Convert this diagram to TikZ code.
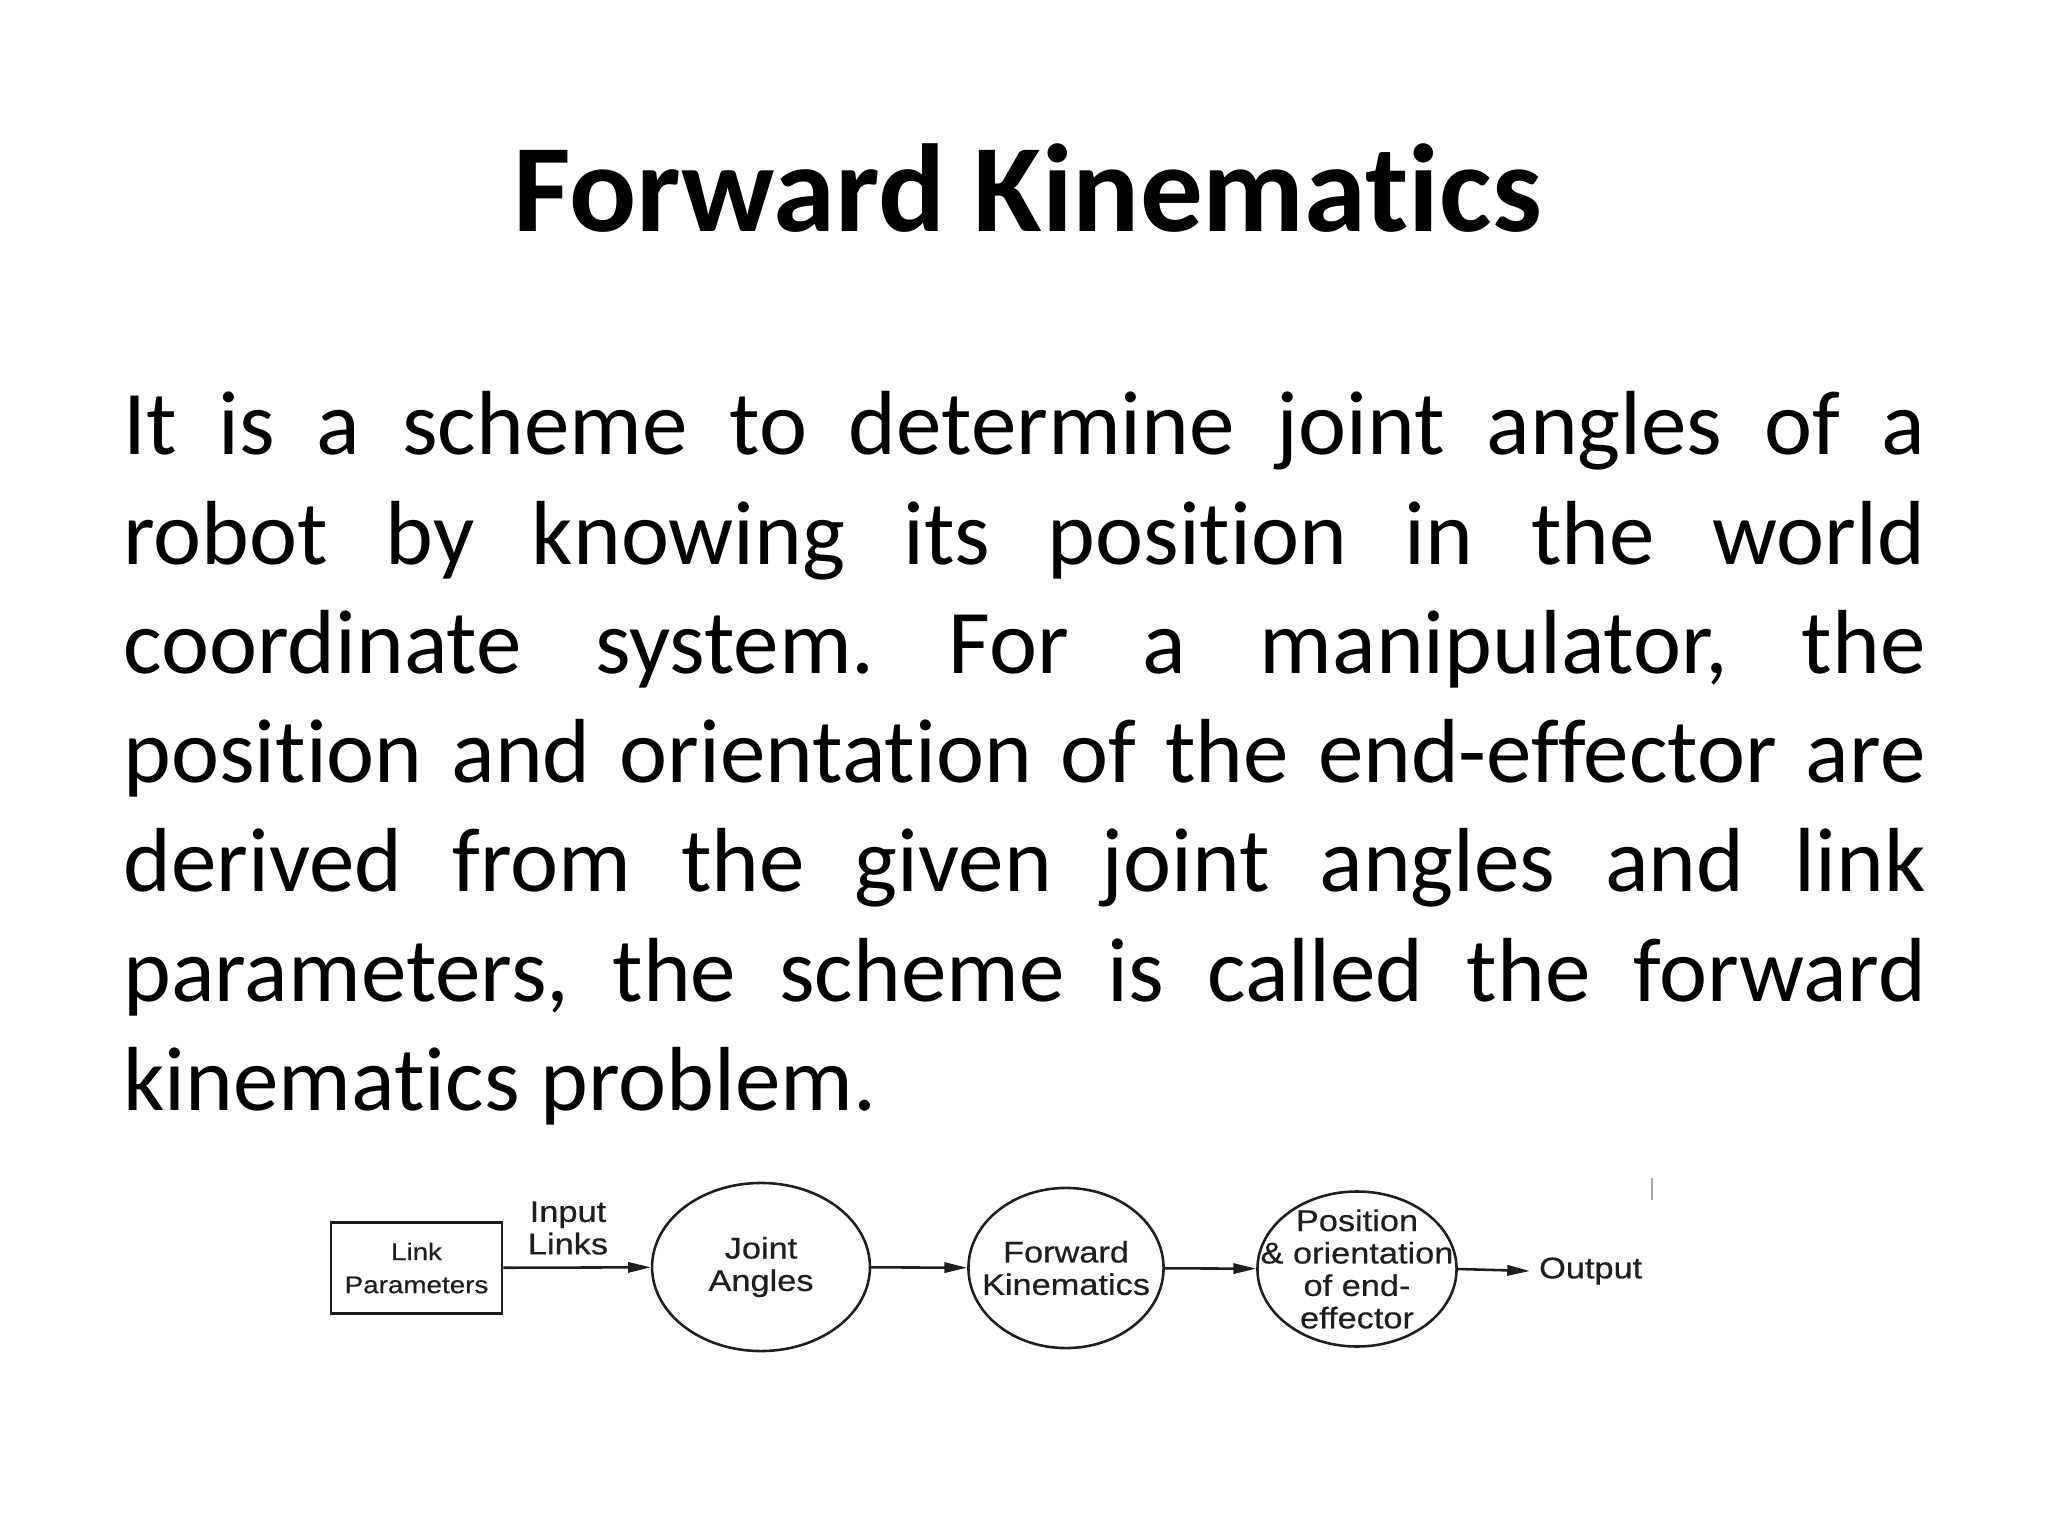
\documentclass[tikz,border=0pt]{standalone}
\usepackage{fontspec}
\setmainfont{Carlito}[Ligatures=NoCommon]
\newfontfamily\diagfont[FakeStretch=1.15,FakeBold=0.5]{Liberation Sans}
\usetikzlibrary{shapes.geometric,arrows.meta}
\definecolor{ink}{HTML}{1E1E1E}
\tikzset{
  px/.style={x=0.3515625pt,y=-0.3515625pt},
  diag/.style={font=\diagfont\fontsize{10.5}{11.4}\selectfont, text=ink, align=center},
  bubble/.style={ellipse, draw=ink, line width=0.9pt, inner xsep=-14pt, inner ysep=-10pt, diag},
  flow/.style={draw=ink, line width=0.9pt, -{Triangle[length=8pt,width=3.6pt]}},
  boxnode/.style={rectangle, draw=ink, line width=0.9pt, minimum width=60.1pt, minimum height=32pt,
    inner sep=0pt, align=center, font=\diagfont\fontsize{8.5}{11.6}\selectfont, text=ink},
  titletext/.style={font=\fontsize{44}{52.8}\selectfont\bfseries, inner sep=0pt},
  bodytext/.style={font=\fontsize{32}{38.4}\selectfont, inner sep=0pt, text width=633.6pt, align=justify},
}
\begin{document}
\begin{tikzpicture}[px]
  \useasboundingbox (0,0) rectangle (2048,1536);
  \fill[white] (0,0) rectangle (2048,1536);

  \node[titletext, anchor=base] (title) at (1027.5,232) {Forward Kinematics};

  \node[bodytext, anchor=base west] (body) at (122.9,455) {\frenchspacing\hyphenpenalty=10000\exhyphenpenalty=10000
    It is a scheme to determine joint angles of a\linebreak
    robot by knowing its position in the world\linebreak
    coordinate system. For a manipulator, the\linebreak
    position and orientation of the end-effector are\linebreak
    derived from the given joint angles and link\linebreak
    parameters, the scheme is called the forward\linebreak
    kinematics problem.};

  % diagram
  \node[boxnode] (lp) at (416.5,1268) {Link\\Parameters};
  \node[diag, inner sep=0pt] (il) at (568,1228) {Input\\Links};
  \node[bubble, minimum width=76.6pt, minimum height=59.1pt] (ja) at (761,1267) {Joint\\Angles};
  \node[bubble, minimum width=68.6pt, minimum height=56.3pt] (fk) at (1066,1268) {Forward\\Kinematics};
  \node[bubble, minimum width=70pt, minimum height=54.5pt] (po) at (1357,1269) {Position\\\& orientation\\of end-\\effector};
  \node[diag, anchor=west, inner xsep=3pt, inner ysep=0pt] (out) at (1530,1271) {Output};

  \draw[flow] (lp) -- (ja);
  \draw[flow] (ja) -- (fk);
  \draw[flow] (fk) -- (po);
  \draw[flow] (po.east) -- (out.west);

  \draw[gray!70, line width=0.7pt] (1652,1178) -- (1652,1200);
\end{tikzpicture}
\end{document}
